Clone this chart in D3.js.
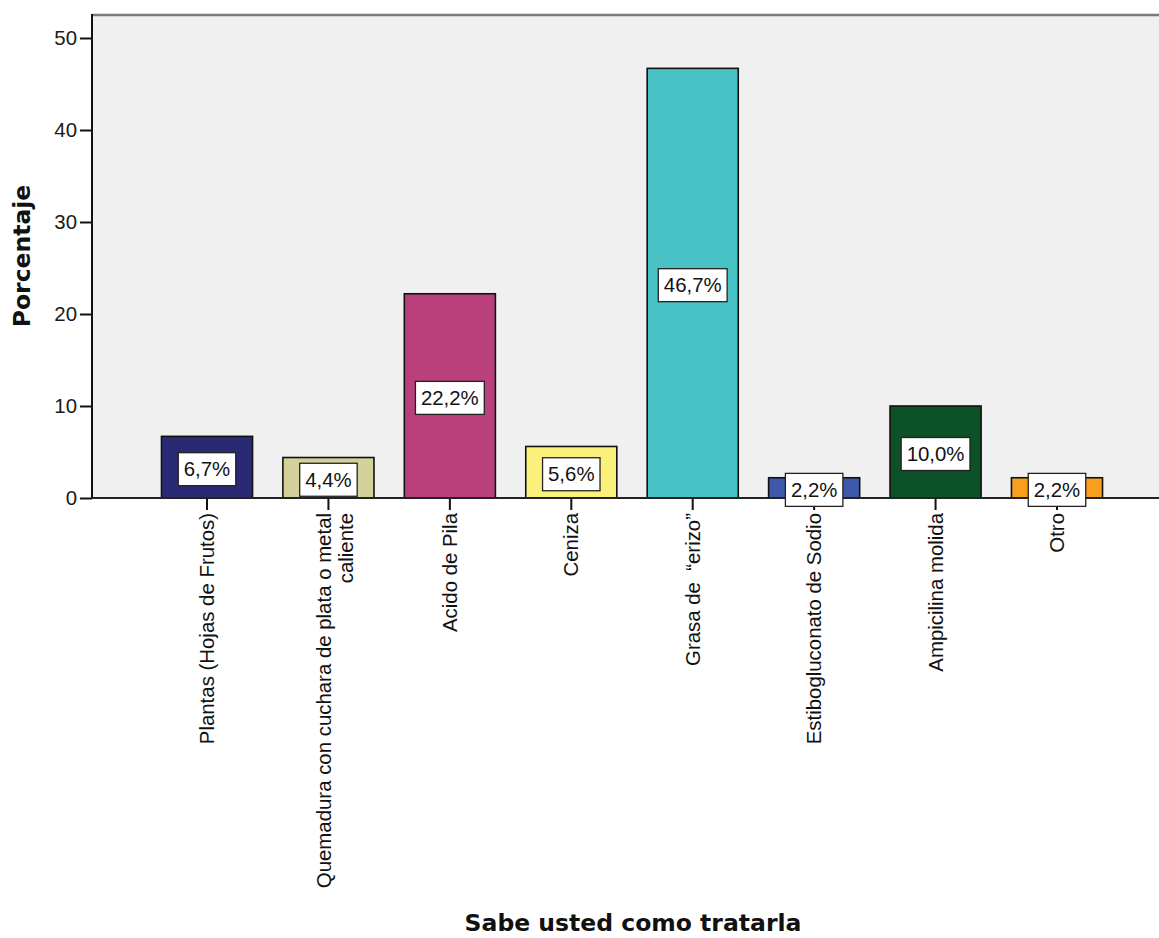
<!DOCTYPE html>
<html>
<head>
<meta charset="utf-8">
<script src="https://cdn.jsdelivr.net/npm/d3@7"></script>
<style>
  html, body { margin: 0; padding: 0; background: #fff; }
  svg { display: block; }
  svg text { white-space: pre; }
</style>
</head>
<body>
<svg id="chart" width="1159" height="938"></svg>
<script>
// Treatment categories (multi-line names split on "\n")
const categories = [
  "Plantas (Hojas de Frutos)",
  "Quemadura con cuchara de plata o metal\ncaliente",
  "Acido de Pila",
  "Ceniza",
  "Grasa de  \u201Cerizo\u201D",
  "Estibogluconato de Sodio",
  "Ampicilina molida",
  "Otro"
];
// Percentage of respondents per category
const percentages = [6.7, 4.4, 22.2, 5.6, 46.7, 2.2, 10.0, 2.2];
const barColors = ["#292a73", "#d5d19a", "#b9407d", "#fbf17a", "#48c2c5", "#3e58ac", "#0d5128", "#f89f1f"];
const yTicks = [0, 10, 20, 30, 40, 50];
const xTitle = "Sabe usted como tratarla";
const yTitle = "Porcentaje";

const svg = d3.select("#chart");
const plot = { left: 92, top: 14, right: 1180, bottom: 498 };
const labelFont = "'Liberation Sans', Arial, sans-serif";
const labelSize = 20.4;

const x = d3.scaleBand()
  .domain(categories)
  .range([146.3, 1117.7])
  .paddingInner(0.25)
  .paddingOuter(0.125);

const y = d3.scaleLinear().domain([0, 50]).range([plot.bottom, 38]);

// plot background
svg.append("rect")
  .attr("x", plot.left).attr("y", plot.top)
  .attr("width", plot.right - plot.left).attr("height", plot.bottom - plot.top)
  .attr("fill", "#f0f0f0");

// top frame line
svg.append("line")
  .attr("x1", plot.left).attr("x2", plot.right)
  .attr("y1", plot.top + 1).attr("y2", plot.top + 1)
  .attr("stroke", "#7a7a7a").attr("stroke-width", 2.5);

// bars
svg.append("g").selectAll("rect")
  .data(categories)
  .join("rect")
  .attr("x", d => x(d))
  .attr("y", (d, i) => y(percentages[i]))
  .attr("width", x.bandwidth())
  .attr("height", (d, i) => y(0) - y(percentages[i]))
  .attr("fill", (d, i) => barColors[i])
  .attr("stroke", "#111")
  .attr("stroke-width", 1.6);

// y axis
const yAxis = svg.append("g")
  .attr("transform", `translate(${plot.left},0)`)
  .call(d3.axisLeft(y).tickValues(yTicks).tickSize(12).tickPadding(3).tickFormat(d3.format("d")));
yAxis.select(".domain").remove();
yAxis.selectAll(".tick line").attr("stroke", "#111").attr("stroke-width", 2);
yAxis.selectAll(".tick text")
  .attr("font-family", labelFont)
  .attr("font-size", labelSize).attr("fill", "#1a1a1a");
svg.append("line")
  .attr("x1", plot.left).attr("x2", plot.left)
  .attr("y1", plot.top).attr("y2", plot.bottom + 1)
  .attr("stroke", "#111").attr("stroke-width", 2);

// x axis
const xAxis = svg.append("g")
  .attr("transform", `translate(0,${plot.bottom})`)
  .call(d3.axisBottom(x).tickSize(12).tickFormat(""));
xAxis.select(".domain").remove();
xAxis.selectAll(".tick line").attr("stroke", "#111").attr("stroke-width", 2);
svg.append("line")
  .attr("x1", plot.left).attr("x2", plot.right)
  .attr("y1", plot.bottom).attr("y2", plot.bottom)
  .attr("stroke", "#222").attr("stroke-width", 2);

// rotated category labels
const labelG = svg.append("g");
categories.forEach(c => {
  const lines = c.split("\n");
  const cx = x(c) + x.bandwidth() / 2;
  lines.forEach((ln, j) => {
    const offset = lines.length === 1 ? 0 : (j === 0 ? -5 : 17);
    labelG.append("text")
      .attr("transform", `translate(${cx + offset},${plot.bottom + 15}) rotate(-90)`)
      .attr("text-anchor", "end")
      .attr("dy", "0.35em")
      .attr("font-family", labelFont)
      .attr("font-size", labelSize)
      .attr("fill", "#111")
      .text(ln);
  });
});

// value labels in white boxes
const fmt = v => v.toFixed(1).replace(".", ",") + "%";
const valG = svg.append("g");
categories.forEach((c, i) => {
  const cx = x(c) + x.bandwidth() / 2;
  const cy = (y(percentages[i]) + y(0)) / 2 + 2;
  const g = valG.append("g");
  const t = g.append("text")
    .attr("x", cx).attr("y", cy)
    .attr("text-anchor", "middle")
    .attr("dy", "0.35em")
    .attr("font-family", labelFont)
    .attr("font-size", labelSize)
    .attr("fill", "#111")
    .text(fmt(percentages[i]));
  const w = t.node().getComputedTextLength() + 11;
  g.insert("rect", "text")
    .attr("x", cx - w / 2).attr("y", cy - 16.5)
    .attr("width", w).attr("height", 33)
    .attr("fill", "#fff")
    .attr("stroke", "#222").attr("stroke-width", 1.3);
});

// axis titles
svg.append("text")
  .attr("x", 633).attr("y", 931)
  .attr("text-anchor", "middle")
  .attr("font-family", "'DejaVu Sans', Verdana, sans-serif")
  .attr("font-weight", "bold")
  .attr("font-size", 23.5)
  .attr("fill", "#111")
  .text(xTitle);

svg.append("text")
  .attr("transform", `translate(30,${(plot.top + plot.bottom) / 2}) rotate(-90)`)
  .attr("text-anchor", "middle")
  .attr("font-family", "'DejaVu Sans', Verdana, sans-serif")
  .attr("font-weight", "bold")
  .attr("font-size", 23.5)
  .attr("fill", "#111")
  .text(yTitle);
</script>
</body>
</html>
